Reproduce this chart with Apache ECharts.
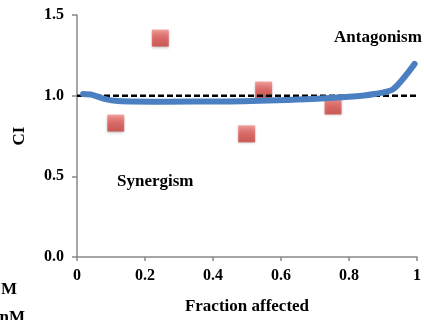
<!DOCTYPE html>
<html>
<head>
<meta charset="utf-8">
<script src="https://cdn.jsdelivr.net/npm/echarts@6/dist/echarts.min.js"></script>
<style>
html,body{margin:0;padding:0;background:#fff;}
#chart{width:424px;height:320px;}
</style>
</head>
<body>
<div id="chart"></div>
<script>
// CI 曲线 (Fa - CI)
var curveFa = [0.018, 0.045, 0.08, 0.12, 0.25, 0.45, 0.65, 0.8, 0.88, 0.93, 0.993];
var curveCi = [1.01, 1.005, 0.98, 0.967, 0.963, 0.964, 0.976, 0.993, 1.012, 1.04, 1.197];
// 实测点
var pointFa = [0.114, 0.245, 0.499, 0.549, 0.753];
var pointCi = [0.83, 1.357, 0.763, 1.035, 0.936];
// 参考线 CI = 1
var refFa = [0, 1.015];
var refCi = [1, 1];

var font = '"Liberation Serif", "Times New Roman", serif';

function pairs(a, b){
	var out = [];
	for (var i = 0; i < a.length; i++) out.push([a[i], b[i]]);
	return out;
}

function label(txt, pos){
	var g = {type: 'text', top: pos.top, style: {text: txt, fontFamily: font, fontWeight: 'bold', fontSize: 17, fill: '#000'}};
	if (pos.left != null) g.left = pos.left;
	if (pos.right != null) g.right = pos.right;
	return g;
}

var myChart = echarts.init(document.getElementById('chart'));
var option = {
	animation: false,
	grid: {left: 77, right: 5, top: 15, bottom: 63},
	xAxis: {
		type: 'value',
		min: 0, max: 1, interval: 0.2,
		name: 'Fraction affected',
		nameLocation: 'middle',
		nameGap: 41,
		nameTextStyle: {fontFamily: font, fontWeight: 'bold', fontSize: 17, color: '#000'},
		axisLine: {lineStyle: {color: '#888', width: 1.5}},
		axisTick: {show: true, length: 4, lineStyle: {color: '#888', width: 1.5}},
		splitLine: {show: false},
		axisLabel: {
			margin: 11,
			fontFamily: font, fontWeight: 'bold', fontSize: 16, color: '#000',
			formatter: function (v) {
				if (v === 0) return '0';
				if (v === 1) return '1';
				return v.toFixed(1);
			}
		}
	},
	yAxis: {
		type: 'value',
		min: 0, max: 1.5, interval: 0.5,
		name: 'CI',
		nameLocation: 'middle',
		nameGap: 49,
		nameTextStyle: {fontFamily: font, fontWeight: 'bold', fontSize: 17, color: '#000'},
		axisLine: {show: true, lineStyle: {color: '#888', width: 1.5}},
		axisTick: {show: true, length: 5, lineStyle: {color: '#888', width: 1.5}},
		splitLine: {show: false},
		axisLabel: {
			margin: 13,
			fontFamily: font, fontWeight: 'bold', fontSize: 16, color: '#000',
			formatter: function (v) { return v.toFixed(1); }
		}
	},
	series: [
		{
			type: 'line',
			data: pairs(refFa, refCi),
			symbol: 'none',
			clip: false,
			lineStyle: {color: '#000', width: 2.5, type: [6, 3]},
			z: 2
		},
		{
			type: 'scatter',
			data: pairs(pointFa, pointCi),
			symbol: 'rect',
			symbolSize: 17,
			itemStyle: {
				color: new echarts.graphic.LinearGradient(0, 0, 0, 1, [
					{offset: 0, color: '#f28a86'},
					{offset: 0.5, color: '#e05450'},
					{offset: 1, color: '#c8403c'}
				]),
				shadowBlur: 3,
				shadowColor: 'rgba(0,0,0,0.35)',
				shadowOffsetY: 1
			},
			z: 1
		},
		{
			type: 'line',
			data: pairs(curveFa, curveCi),
			symbol: 'none',
			smooth: 0.25,
			clip: false,
			lineStyle: {color: '#4a7fc1', width: 6, cap: 'round', join: 'round'},
			z: 3
		}
	],
	graphic: [
		label('Antagonism', {left: 334, top: 29}),
		label('Synergism', {left: 117, top: 173}),
		label('M', {right: 407, top: 281}),
		label('nM', {right: 399, top: 309})
	]
};
myChart.setOption(option);
</script>
</body>
</html>
